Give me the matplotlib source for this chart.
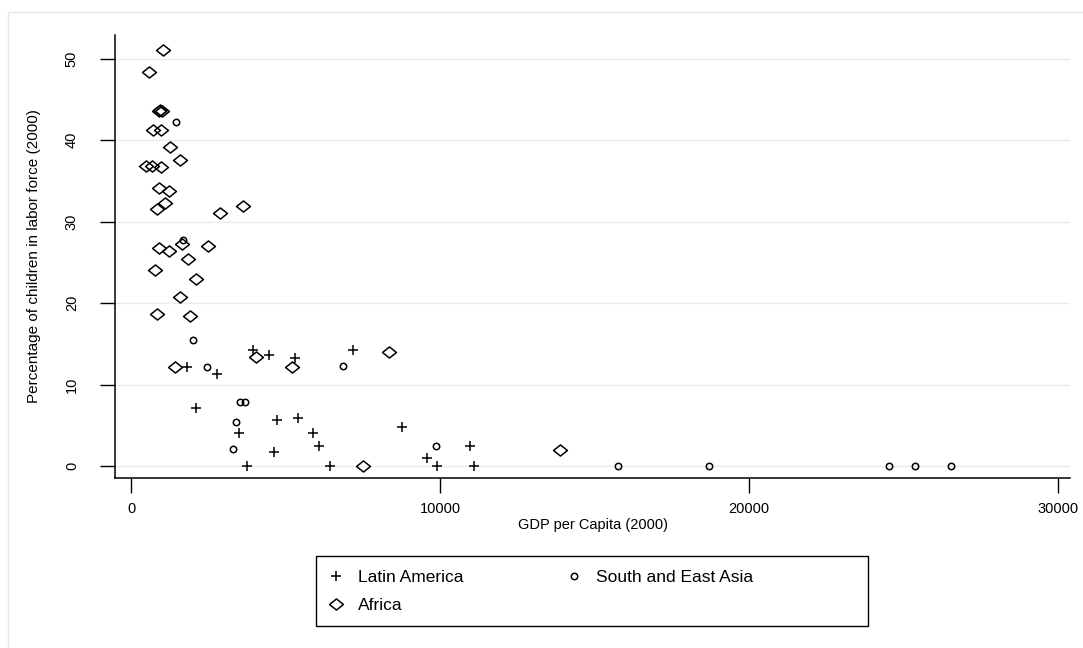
import matplotlib.pyplot as plt
import numpy as np
from matplotlib.path import Path
from matplotlib.patches import Rectangle

plt.rcParams['font.family'] = ['Liberation Sans', 'DejaVu Sans']

# GDP per capita (2000) and share of children in the labour force (2000)
latin_gdp = [3938, 4475, 5297, 7184, 1822, 2773, 2103, 3485, 3744, 4715,
             5394, 5880, 6084, 4628, 6430, 8760, 9579, 9892, 10970, 11100]
latin_pct = [14.2, 13.6, 13.3, 14.3, 12.1, 11.3, 7.1, 4.1, 0.0, 5.7,
             5.9, 4.1, 2.4, 1.7, 0.0, 4.8, 1.0, 0.0, 2.4, 0.0]

asia_gdp = [1447, 1692, 2016, 6851, 2469, 3537, 3689, 3407, 3291, 9870,
            15769, 18714, 24519, 25380, 26525]
asia_pct = [42.2, 27.8, 15.5, 12.3, 12.1, 7.8, 7.9, 5.4, 2.1, 2.4,
            0.0, 0.0, 0.0, 0.0, 0.0]

africa_gdp = [1026, 573, 900, 950, 1000, 702, 971, 1262, 1595, 476,
              670, 971, 896, 1220, 1110, 832, 2870, 3624, 1650, 896,
              1220, 2482, 1845, 767, 2103, 1586, 832, 1909, 4035, 5220,
              1414, 8339, 7517, 13892]
africa_pct = [51.1, 48.4, 43.6, 43.7, 43.6, 41.2, 41.3, 39.1, 37.6, 36.8,
              36.8, 36.7, 34.1, 33.8, 32.3, 31.5, 31.1, 31.9, 27.2, 26.8,
              26.4, 27.0, 25.4, 24.0, 22.9, 20.7, 18.7, 18.4, 13.4, 12.2,
              12.1, 14.0, 0.0, 2.0]

x_ticks = [0, 10000, 20000, 30000]
y_ticks = [0, 10, 20, 30, 40, 50]

# slightly flattened hollow diamond
diamond = Path([(-1, 0), (0, 0.8), (1, 0), (0, -0.8), (-1, 0)],
               [Path.MOVETO, Path.LINETO, Path.LINETO, Path.LINETO, Path.CLOSEPOLY])

W, H = 1083, 648
fig = plt.figure(figsize=(W / 100, H / 100), dpi=100)
# light outer frame
fig.patches.append(Rectangle((8 / W, -0.01), 1.0, 1 - 12 / H + 0.01,
                             transform=fig.transFigure, fill=False,
                             edgecolor='#e6e6e6', linewidth=1.0))
ax = fig.add_axes([0.1062, 0.2623, 0.8818, 0.6837])

h_latin, = ax.plot(latin_gdp, latin_pct, ls='none', marker='+', ms=7.5,
                   mew=1.1, color='black', label='Latin America')
h_asia, = ax.plot(asia_gdp, asia_pct, ls='none', marker='o', ms=4.6,
                  mfc='none', mew=1.1, color='black', label='South and East Asia')
h_africa, = ax.plot(africa_gdp, africa_pct, ls='none', marker=diamond, ms=10,
                    mfc='none', mew=1.1, color='black', label='Africa')

ax.set_xlim(-518, 30390)
ax.set_ylim(-1.47, 52.9)
ax.set_xticks(x_ticks)
ax.set_yticks(y_ticks)
ax.set_xticklabels([str(v) for v in x_ticks])
ax.set_yticklabels([str(v) for v in y_ticks], rotation=90, va='center')
ax.grid(axis='y', color='#ebebeb', linewidth=1.0)
ax.set_axisbelow(True)
for side in ['top', 'right']:
    ax.spines[side].set_visible(False)
for side in ['left', 'bottom']:
    ax.spines[side].set_linewidth(1.1)
ax.tick_params(axis='both', length=11, width=1.0, labelsize=10.5, color='black')
ax.tick_params(axis='x', pad=6)
ax.tick_params(axis='y', pad=15)

ax.set_xlabel('GDP per Capita (2000)', fontsize=10.5, labelpad=2)
ax.set_ylabel('Percentage of children in labor force (2000)', fontsize=11, labelpad=17)

# legend box drawn separately so the second column sits where it should
fig.patches.append(Rectangle((316 / W, 1 - 626 / H), 552 / W, 70 / H,
                             transform=fig.transFigure, fill=False,
                             edgecolor='black', linewidth=1.0))
leg = fig.legend([h_latin, h_africa, h_asia],
                 ['Latin America', 'Africa', 'South and East Asia'],
                 ncol=2, loc='upper left',
                 bbox_to_anchor=(327 / W, 1 - 570 / H),
                 fontsize=12.5, frameon=False,
                 labelspacing=0.75, columnspacing=5.9,
                 handlelength=1.0, handletextpad=0.77, borderpad=0,
                 borderaxespad=0)

fig.savefig('out.png', dpi=100, facecolor='white')
